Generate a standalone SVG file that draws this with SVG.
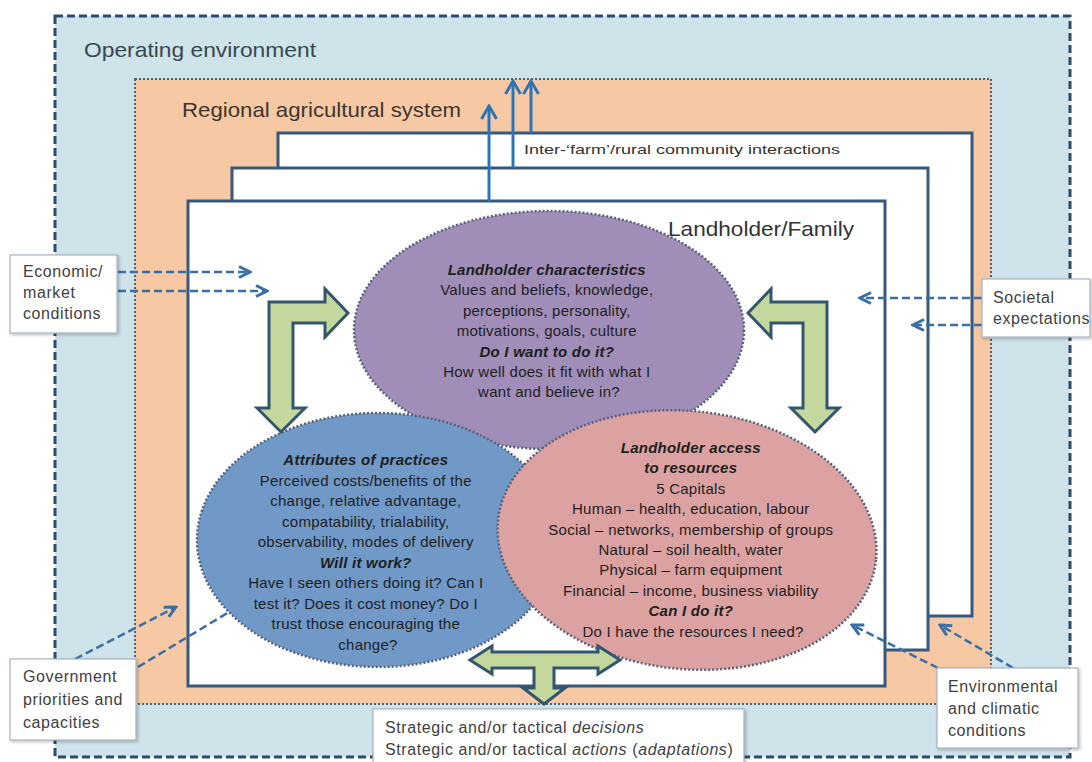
<svg xmlns="http://www.w3.org/2000/svg" width="1092" height="762" viewBox="0 0 1092 762">
<defs>
<style>
.t{font-family:"Liberation Sans",Arial,sans-serif}
.el{font-family:"Liberation Sans",Arial,sans-serif;font-size:15px;fill:#1e1e1e;text-anchor:middle;letter-spacing:0.25px}
.bi{font-weight:bold;font-style:italic}
.it{font-style:italic}
.lbl{font-family:"Liberation Sans",Arial,sans-serif;font-size:16px;fill:#414141;letter-spacing:0.6px}
.box{fill:#fff;stroke:#35587c;stroke-width:3}
.ell{stroke:#56627a;stroke-width:2.5;stroke-dasharray:2 2}
.green{fill:#c4d79d;stroke:#33566f;stroke-width:3;stroke-linejoin:miter}
.up{fill:none;stroke:#2e74b5;stroke-width:3;marker-end:url(#mUp)}
.dash{fill:none;stroke:#3a6ea6;stroke-width:2.5;stroke-dasharray:8 4}
.head{marker-end:url(#mDash)}
.lb{fill:#fff;stroke:#a7b3c0;stroke-width:1.2;filter:url(#sh)}
</style>
<marker id="mUp" viewBox="0 0 16 18" refX="14" refY="9" markerWidth="16" markerHeight="18" markerUnits="userSpaceOnUse" orient="auto"><path d="M1,1.5 L14,9 L1,16.5" fill="none" stroke="#2e74b5" stroke-width="3"/></marker>
<marker id="mDash" viewBox="0 0 14 14" refX="12" refY="7" markerWidth="14" markerHeight="14" markerUnits="userSpaceOnUse" orient="auto"><path d="M1,1.5 L12,7 L1,12.5" fill="none" stroke="#3a6ea6" stroke-width="3"/></marker>
<filter id="sh" x="-10%" y="-10%" width="130%" height="130%"><feDropShadow dx="1.5" dy="1.5" stdDeviation="1.5" flood-color="#000" flood-opacity="0.25"/></filter>
</defs>

<g id="operating-environment">
<rect x="55" y="16" width="1015" height="741" fill="#cee3ea" stroke="#2f4b6a" stroke-width="3" stroke-dasharray="8 4"/>
<text class="t" x="84" y="57" font-size="21" textLength="232" lengthAdjust="spacingAndGlyphs" fill="#37474f">Operating environment</text>
</g>

<g id="regional-system">
<rect x="135" y="79" width="856" height="625" fill="#f6c9a4" stroke="#56606c" stroke-width="2" stroke-dasharray="2 2"/>
<text class="t" x="182" y="117" font-size="21" textLength="279" lengthAdjust="spacingAndGlyphs" fill="#3f3530">Regional agricultural system</text>
</g>

<g id="community-box">
<rect class="box" x="278" y="133" width="694" height="483"/>
<text class="t" x="524" y="154" font-size="13" textLength="316" lengthAdjust="spacingAndGlyphs" fill="#333">Inter-‘farm’/rural community interactions</text>
</g>
<g id="middle-box">
<rect class="box" x="232" y="168" width="696" height="482"/>
</g>
<g id="landholder-family">
<rect class="box" x="188" y="201" width="697" height="485"/>
<text class="t" x="668" y="236" font-size="21" textLength="186" lengthAdjust="spacingAndGlyphs" fill="#333">Landholder/Family</text>
</g>

<g id="landholder-characteristics">
<ellipse class="ell" cx="549" cy="330" rx="195" ry="119" fill="#a08db8"/>
<text class="el">
<tspan class="bi" x="549" y="275">Landholder characteristics</tspan>
<tspan x="549" dy="20.4">Values and beliefs, knowledge,</tspan>
<tspan x="549" dy="20.4">perceptions, personality,</tspan>
<tspan x="549" dy="20.4">motivations, goals, culture</tspan>
<tspan class="bi" x="549" dy="20.4">Do I want to do it?</tspan>
<tspan x="549" dy="20.4">How well does it fit with what I</tspan>
<tspan x="549" dy="20.4">want and believe in?</tspan>
</text>
</g>

<g id="attributes-of-practices">
<ellipse class="ell" cx="378" cy="540" rx="181" ry="127" fill="#7099c8"/>
<text class="el">
<tspan class="bi" x="368" y="465">Attributes of practices</tspan>
<tspan x="368" dy="20.5">Perceived costs/benefits of the</tspan>
<tspan x="368" dy="20.5">change, relative advantage,</tspan>
<tspan x="368" dy="20.5">compatability, trialability,</tspan>
<tspan x="368" dy="20.5">observability, modes of delivery</tspan>
<tspan class="bi" x="368" dy="20.5">Will it work?</tspan>
<tspan x="368" dy="20.5">Have I seen others doing it? Can I</tspan>
<tspan x="368" dy="20.5">test it? Does it cost money? Do I</tspan>
<tspan x="368" dy="20.5">trust those encouraging the</tspan>
<tspan x="368" dy="20.5">change?</tspan>
</text>
</g>

<g id="access-to-resources">
<ellipse class="ell" cx="687" cy="540" rx="190" ry="129" fill="#dca2a2" transform="rotate(6 687 540)"/>
<text class="el">
<tspan class="bi" x="693" y="453">Landholder access</tspan>
<tspan class="bi" x="693" dy="20.4">to resources</tspan>
<tspan x="693" dy="20.4">5 Capitals</tspan>
<tspan x="693" dy="20.4">Human – health, education, labour</tspan>
<tspan x="693" dy="20.4">Social – networks, membership of groups</tspan>
<tspan x="693" dy="20.4">Natural – soil health, water</tspan>
<tspan x="693" dy="20.4">Physical – farm equipment</tspan>
<tspan x="693" dy="20.4">Financial – income, business viability</tspan>
<tspan class="bi" x="693" dy="20.4">Can I do it?</tspan>
<tspan x="693" dy="20.4">Do I have the resources I need?</tspan>
</text>
</g>

<g id="interaction-arrows">
<polygon class="green" points="269,302 325,302 325,289 348,313 325,337 325,323 293,323 293,408 305,408 281,432 257,408 269,408"/>
<polygon class="green" points="827,302 771,302 771,289 748,313 771,337 771,323 803,323 803,408 791,408 815,432 839,408 827,408"/>
<polygon class="green" points="470,660 492,646 492,652 598,652 598,646 620,660 598,674 598,668 554,668 554,688 565,688 544,704 523,688 534,688 534,668 492,668 492,674"/>
</g>

<g id="connectors">
<path class="up" d="M489,201 L489,106"/>
<path class="up" d="M513,168 L513,81"/>
<path class="up" d="M531,133 L531,81"/>
<path class="dash head" d="M118,272 L250,272"/>
<path class="dash head" d="M118,291 L267,291"/>
<path class="dash head" d="M982,298 L860,298"/>
<path class="dash head" d="M982,325 L913,325"/>
<path class="dash head" d="M75,659 L176,607"/>
<path class="dash" d="M138,667 L229,612"/>
<path class="dash head" d="M938,668 L852,625"/>
<path class="dash head" d="M1013,668 L940,625"/>
</g>

<g id="economic-market-conditions">
<rect class="lb" x="10" y="255" width="107" height="78"/>
<text class="lbl"><tspan x="23" y="277">Economic/</tspan><tspan x="23" y="298">market</tspan><tspan x="23" y="319">conditions</tspan></text>
</g>
<g id="societal-expectations">
<rect class="lb" x="982" y="279" width="108" height="58"/>
<text class="lbl"><tspan x="993" y="303">Societal</tspan><tspan x="993" y="324">expectations</tspan></text>
</g>
<g id="government-priorities">
<rect class="lb" x="10" y="659" width="126" height="81"/>
<text class="lbl"><tspan x="23" y="682">Government</tspan><tspan x="23" y="705">priorities and</tspan><tspan x="23" y="728">capacities</tspan></text>
</g>
<g id="environmental-conditions">
<rect class="lb" x="937" y="668" width="141" height="80"/>
<text class="lbl"><tspan x="948" y="692">Environmental</tspan><tspan x="948" y="714">and climatic</tspan><tspan x="948" y="736">conditions</tspan></text>
</g>
<g id="decisions-actions">
<rect class="lb" x="373" y="709" width="371" height="60"/>
<text class="lbl"><tspan x="385" y="733">Strategic and/or tactical <tspan class="it">decisions</tspan></tspan><tspan x="385" y="755">Strategic and/or tactical <tspan class="it">actions</tspan> (<tspan class="it">adaptations</tspan>)</tspan></text>
</g>
</svg>
